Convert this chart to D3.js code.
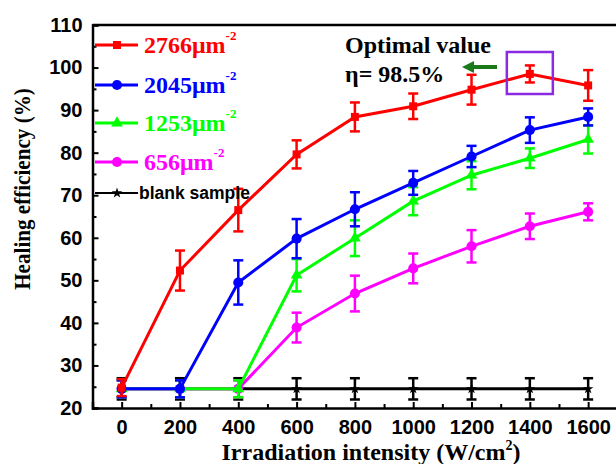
<!DOCTYPE html>
<html>
<head>
<meta charset="utf-8">
<script src="https://cdn.jsdelivr.net/npm/d3@7"></script>
<style>
  body { margin: 0; background: #fff; }
  svg { display: block; }
</style>
</head>
<body>
<div id="chart"></div>
<script>
// irradiation intensity (W/cm2)
const intensities = [0, 200, 400, 600, 800, 1000, 1200, 1400, 1600];

// healing efficiency (%) and error bars per sample
const eff2766 = [24.8, 52.3, 66.5, 79.6, 88.4, 90.9, 94.8, 98.5, 95.8];
const err2766 = [2, 4.7, 5, 3.3, 3.4, 3, 3.5, 2, 3.6];
const eff2045 = [24.5, 24.5, 49.5, 59.8, 66.7, 72.9, 79.1, 85.3, 88.4];
const err2045 = [2, 2, 5.2, 4.6, 4, 2.8, 2.5, 3, 2];
const eff1253 = [24.5, 24.5, 24.5, 51.2, 59.9, 68.6, 74.7, 78.7, 83.1];
const err1253 = [2, 2, 2, 3.8, 4.2, 3.3, 3.3, 2.3, 3.3];
const eff656 = [24.5, 24.5, 24.5, 38.9, 46.9, 52.8, 58, 62.7, 66.1];
const err656 = [2, 2, 2, 3.5, 4.2, 3.5, 3.8, 3, 2];
const effBlank = [24.5, 24.5, 24.5, 24.5, 24.5, 24.5, 24.5, 24.5, 24.5];
const errBlank = [2.5, 2.5, 2.5, 2.5, 2.5, 2.5, 2.5, 2.5, 2.5];

const xTicks = [0, 200, 400, 600, 800, 1000, 1200, 1400, 1600];
const yTicks = [20, 30, 40, 50, 60, 70, 80, 90, 100, 110];

const series = [
  { name: "2766", vals: eff2766, errs: err2766, color: "#ff0000", symbol: d3.symbolSquare, size: 64 },
  { name: "2045", vals: eff2045, errs: err2045, color: "#0000ff", symbol: d3.symbolCircle, size: 80 },
  { name: "1253", vals: eff1253, errs: err1253, color: "#00ff00", symbol: d3.symbolTriangle, size: 60 },
  { name: "656", vals: eff656, errs: err656, color: "#ff00ff", symbol: d3.symbolCircle, size: 80 },
  { name: "blank sample", vals: effBlank, errs: errBlank, color: "#000000", symbol: d3.symbolStar, size: 35 }
];

const W = 616, H = 464;
const svg = d3.select("#chart").append("svg").attr("width", W).attr("height", H);

const x = d3.scaleLinear().domain([-100, 1700]).range([92.5, 617.3]);
const y = d3.scaleLinear().domain([20, 110]).range([408, 25]);

const serif = "'Liberation Serif', 'Times New Roman', serif";
const sans = "'Liberation Sans', Arial, sans-serif";

const line = d3.line().x(d => x(d[0])).y(d => y(d[1]));
const plot = svg.append("g");

// blank first so coloured series sit on top
series.slice().reverse().forEach(s => {
  const pts = intensities.map((v, i) => [v, s.vals[i], s.errs[i]]);
  const g = plot.append("g");
  g.append("path").datum(pts).attr("d", line)
    .attr("fill", "none").attr("stroke", s.color).attr("stroke-width", 3);
  const eb = g.selectAll(".eb").data(pts).enter().append("g").attr("class", "eb");
  eb.append("line")
    .attr("x1", d => x(d[0])).attr("x2", d => x(d[0]))
    .attr("y1", d => y(d[1] - d[2])).attr("y2", d => y(d[1] + d[2]))
    .attr("stroke", s.color).attr("stroke-width", 2.5);
  [-1, 1].forEach(k => {
    eb.append("line")
      .attr("x1", d => x(d[0]) - 5).attr("x2", d => x(d[0]) + 5)
      .attr("y1", d => y(d[1] + k * d[2])).attr("y2", d => y(d[1] + k * d[2]))
      .attr("stroke", s.color).attr("stroke-width", 2.5);
  });
  g.selectAll(".mk").data(pts).enter().append("path").attr("class", "mk")
    .attr("d", d3.symbol().type(s.symbol).size(s.size))
    .attr("transform", d => `translate(${x(d[0])},${y(d[1])})`)
    .attr("fill", s.color);
});

// axes, ticks pointing inward
const axisG = svg.append("g");
axisG.append("g").attr("transform", `translate(0,${y(20)})`)
  .call(d3.axisBottom(x).tickValues(xTicks).tickSize(-6).tickPadding(12).tickFormat(d3.format("d")));
axisG.append("g").attr("transform", `translate(0,${y(20)})`)
  .call(d3.axisBottom(x).tickValues(d3.range(100, 1700, 200)).tickSize(-4).tickFormat(""))
  .select(".domain").remove();
axisG.append("g").attr("transform", `translate(${x(-100)},0)`)
  .call(d3.axisLeft(y).tickValues(yTicks).tickSize(-6).tickPadding(10));
axisG.append("g").attr("transform", `translate(${x(-100)},0)`)
  .call(d3.axisLeft(y).tickValues(d3.range(25, 110, 10)).tickSize(-4).tickFormat(""))
  .select(".domain").remove();
axisG.append("line").attr("x1", x(-100)).attr("x2", W).attr("y1", y(110)).attr("y2", y(110))
  .attr("stroke", "#000").attr("stroke-width", 2.5);

axisG.selectAll(".domain").attr("stroke-width", 2.5);
axisG.selectAll(".tick line").attr("stroke-width", 2);
axisG.selectAll(".tick text")
  .style("font-family", sans).style("font-weight", "bold").style("font-size", "20px").attr("fill", "#000");

// axis titles
svg.append("text").attr("x", 371).attr("y", 460).attr("text-anchor", "middle")
  .style("font-family", serif).style("font-weight", "bold").style("font-size", "24px")
  .text("Irradiation intensity (W/cm")
  .call(t => {
    t.append("tspan").attr("dy", -10).style("font-size", "14px").text("2");
    t.append("tspan").attr("dy", 10).text(")");
  });
svg.append("text").attr("transform", "translate(30,189) rotate(-90) scale(0.88,1)").attr("text-anchor", "middle")
  .style("font-family", serif).style("font-weight", "bold").style("font-size", "24px")
  .text("Healing efficiency (%)");

// legend
const legendY = [45, 85, 123, 162, 193];
series.forEach((s, i) => {
  const ly = legendY[i];
  const blank = s.name === "blank sample";
  svg.append("line").attr("x1", 95).attr("x2", 138).attr("y1", ly).attr("y2", ly)
    .attr("stroke", s.color).attr("stroke-width", blank ? 2 : 3);
  svg.append("path").attr("d", d3.symbol().type(s.symbol).size(s.size))
    .attr("transform", `translate(117,${ly})`).attr("fill", s.color);
  if (blank) {
    svg.append("text").attr("x", 139).attr("y", ly + 6)
      .style("font-family", sans).style("font-size", "17.5px").style("font-weight", "bold")
      .attr("fill", "#000").text(s.name);
  } else {
    const t = svg.append("text").attr("x", 144).attr("y", ly + 8)
      .style("font-family", serif).style("font-weight", "bold").style("font-size", "24px")
      .attr("fill", s.color).text(s.name + "μm");
    t.append("tspan").attr("dy", -13).style("font-size", "13px").text("-2");
  }
});

// annotation
svg.append("text").attr("x", 345).attr("y", 53)
  .style("font-family", serif).style("font-weight", "bold").style("font-size", "24px")
  .text("Optimal value");
svg.append("text").attr("x", 345).attr("y", 82)
  .style("font-family", serif).style("font-weight", "bold").style("font-size", "24px")
  .text("η= 98.5%");
svg.append("path")
  .attr("d", "M462,67 L474,61 L474,65 L497,65 L497,69 L474,69 L474,73 Z")
  .attr("fill", "#1a7a1a");
svg.append("rect").attr("x", x(1400) - 23).attr("y", 52).attr("width", 46).attr("height", 42)
  .attr("fill", "none").attr("stroke", "#8a2be2").attr("stroke-width", 2.5);
</script>
</body>
</html>
